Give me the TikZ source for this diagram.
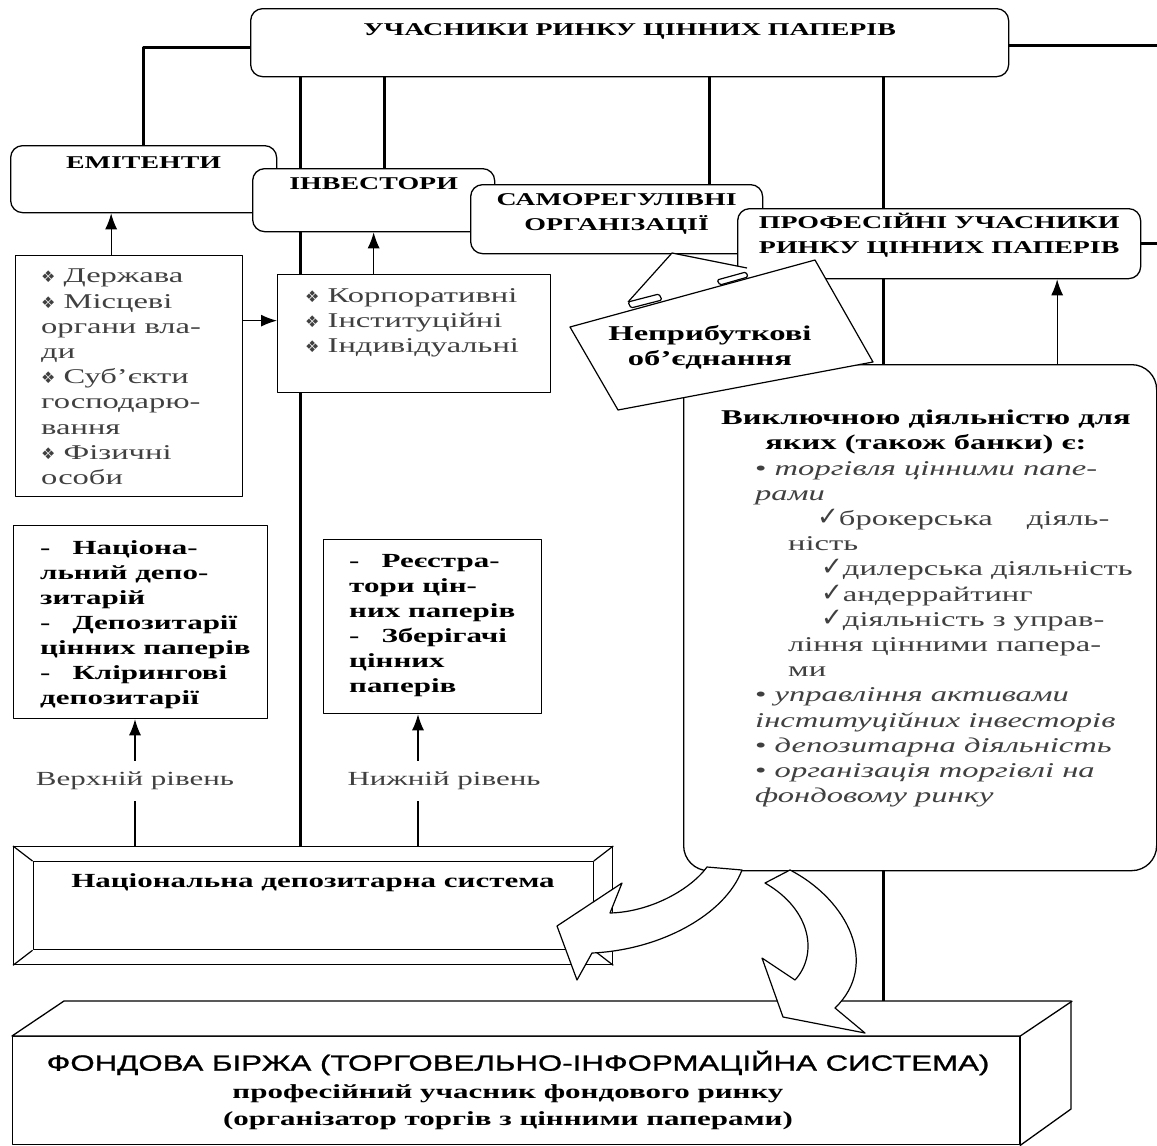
\documentclass[tikz,border=0pt]{standalone}
\usepackage{fontspec}
\setmainfont[FakeStretch=1.55]{Liberation Serif}
\setsansfont[FakeStretch=1.42]{Liberation Sans}
\newfontfamily\narrowsans[FakeStretch=1.42, FakeBold=1.2]{Liberation Sans}
\newfontfamily\dingfont{DejaVu Sans}
\usetikzlibrary{arrows.meta, positioning, shapes}
\definecolor{inkgray}{rgb}{0.25,0.25,0.25}
\newcommand{\dia}{{\dingfont\fontsize{16}{16}\selectfont ❖}}
\newcommand{\chk}{{\dingfont\fontsize{26}{26}\selectfont ✓}}
\tikzstyle{rbox} = [draw, fill=white, rectangle, rounded corners=12pt, line width=1.3pt,
    inner sep=0pt, anchor=north west]
\tikzstyle{block} = [draw, fill=white, rectangle, line width=1.3pt, inner sep=0pt,
    anchor=north west]
\tikzstyle{bus} = [line width=3pt]
\tikzstyle{arrow} = [-{Latex[length=16pt, width=12pt]}, line width=1.2pt]
\tikzstyle{head} = [inner sep=0pt, align=center, font=\fontsize{18}{25}\selectfont\bfseries]
\tikzstyle{body} = [inner sep=0pt, align=left, anchor=north west,
    font=\fontsize{21}{25.2}\selectfont]
\tikzstyle{boldbody} = [body, font=\fontsize{20}{25}\selectfont\bfseries]
\tikzstyle{level} = [inner sep=11pt, text=inkgray, font=\fontsize{20}{24}\selectfont]
\tikzstyle{outline} = [line width=1.2pt]

\begin{document}
\begin{tikzpicture}[x=1pt, y=-1pt, line join=round]
    \useasboundingbox (0,0) rectangle (1157,1146);

    % Place the blocks
    \node [rbox, minimum width=758pt, minimum height=68pt] (market) at (250,8) {};
    \node [head, below=15pt of market.north] (market-t) {УЧАСНИКИ РИНКУ ЦІННИХ ПАПЕРІВ};
    \node [rbox, minimum width=266pt, minimum height=67pt] (emit) at (10,145) {};
    \node [head, below=12pt of emit.north] (emit-t) {ЕМІТЕНТИ};
    \node [rbox, minimum width=242pt, minimum height=63pt] (invest) at (252,168) {};
    \node [head, below=9pt of invest.north] (invest-t) {ІНВЕСТОРИ};
    \node [rbox, minimum width=292pt, minimum height=69pt] (selfreg) at (470,184) {};
    \node [head, below=9pt of selfreg.north] (selfreg-t) {САМОРЕГУЛІВНІ\\ОРГАНІЗАЦІЇ};
    \node [rbox, minimum width=403pt, minimum height=70pt] (prof) at (737,208) {};
    \node [head, below=5pt of prof.north] (prof-t) {ПРОФЕСІЙНІ УЧАСНИКИ\\РИНКУ ЦІННИХ ПАПЕРІВ};

    \node [block, minimum width=227pt, minimum height=241pt] (issuers) at (15,255) {};
    \node [body, text=inkgray] (issuers-t) at (41,269) {\dia\ Держава\\\dia\ Місцеві\\органи вла-\\ди\\\dia\ Суб’єкти\\господарю-\\вання\\\dia\ Фізичні\\особи};
    \node [block, minimum width=273pt, minimum height=118pt] (kinds) at (277,274) {};
    \node [body, text=inkgray] (kinds-t) at (305,288) {\dia\ Корпоративні\\\dia\ Інституційні\\\dia\ Індивідуальні};

    \node [block, minimum width=254pt, minimum height=193pt] (upper) at (13,525) {};
    \node [boldbody] (upper-t) at (40,540) {-\hspace{22pt}Націона-\\льний депо-\\зитарій\\-\hspace{22pt}Депозитарії\\цінних паперів\\-\hspace{22pt}Клірингові\\депозитарії};
    \node [block, minimum width=218pt, minimum height=174pt] (lower) at (323,539) {};
    \node [boldbody] (lower-t) at (349,554) {-\hspace{22pt}Реєстра-\\тори цін-\\них паперів\\-\hspace{22pt}Зберігачі\\цінних\\паперів};
    \node [level] (upper-lvl) at (135,781) {Верхній рівень};
    \node [level] (lower-lvl) at (444,781) {Нижній рівень};

    \node [rbox, rounded corners=25pt, minimum width=473pt, minimum height=506pt] (activity) at (683,364) {};
    \node [boldbody, font=\fontsize{21}{25}\selectfont\bfseries, align=center, anchor=north] (activity-t) at (926,410) {Виключною діяльністю для\\яких (також банки) є:};
    \node [body, text=inkgray] (activity-l) at (755,461) {%
        \textbullet\ \textit{торгівля цінними папе-}\\
        \textit{рами}\\
        \hspace*{62pt}\chk брокерська\hspace{34pt}діяль-\\
        \hspace*{33pt}ність\\
        \hspace*{66pt}\chk дилерська діяльність\\
        \hspace*{66pt}\chk андеррайтинг\\
        \hspace*{66pt}\chk діяльність з управ-\\
        \hspace*{33pt}ління цінними папера-\\
        \hspace*{33pt}ми\\
        \textbullet\ \textit{управління активами}\\
        \textit{інституційних інвесторів}\\
        \textbullet\ \textit{депозитарна діяльність}\\
        \textbullet\ \textit{організація торгівлі на}\\
        \textit{фондовому ринку}};

    % Non-profit note over the corner
    \fill [white] (672,253) -- (628,302) -- (631,313) -- (748,281) -- (747,268) -- cycle;
    \draw [outline, fill=white] (570,327) -- (815,260) -- (873,362) -- (618,410) -- cycle;
    \draw [outline] (628,302) -- (672,253) -- (747,268);
    \draw [outline, fill=white, rounded corners=1.5pt] (628,302) -- (659,294) -- (662,300) -- (631,308) -- cycle;
    \draw [outline, fill=white, rounded corners=1.5pt] (717,280) -- (746,272) -- (748,277) -- (720,285) -- cycle;
    \node [boldbody, font=\fontsize{21}{25}\selectfont\bfseries, align=center, anchor=center] (nonprofit) at (710,347) {Неприбуткові\\об’єднання};

    % Depository system frame
    \node [block, minimum width=599pt, minimum height=118pt] (nds) at (13,846) {};
    \node [draw, outline, inner sep=0pt, minimum width=560pt, minimum height=88pt] (nds-in) at (nds.center) {};
    \foreach \corner in {north west, north east, south west, south east}
        \draw [outline] (nds.\corner) -- (nds-in.\corner);
    \node [head, font=\fontsize{20}{24}\selectfont\bfseries] (nds-t) at (313,883) {Національна депозитарна система};

    % Stock exchange box
    \node [block, minimum width=1007pt, minimum height=108pt] (exchange) at (12,1036) {};
    \coordinate (exch-back) at ([shift={(52,-35)}]exchange.north west);
    \draw [line width=1.3pt, fill=white] (exchange.north west) -- (exch-back) -- ++(1007,0)
        -- ++(0,108) -- (exchange.south east) -- (exchange.north east) -- cycle;
    \draw [line width=1.3pt] (exchange.north east) -- ++(52,-35);
    \node [inner sep=0pt, font=\narrowsans\fontsize{22}{25}\selectfont] (exchange-t) at (518,1063) {ФОНДОВА БІРЖА (ТОРГОВЕЛЬНО-ІНФОРМАЦІЙНА СИСТЕМА)};
    \node [head, font=\fontsize{20}{27}\selectfont\bfseries] (exchange-s) at (508,1107) {професійний учасник фондового ринку\\(організатор торгів з цінними паперами)};

    % Block arrows out of the activity box
    \draw [outline, fill=white] (707,867) .. controls (690,890) and (650,912) .. (610,913)
        -- (622,883) -- (557,926) -- (577,980) -- (592,953)
        .. controls (660,950) and (725,915) .. (742,870) -- cycle;
    \draw [outline, fill=white] (790,870) .. controls (848,900) and (880,965) .. (835,1008)
        -- (865,1033) -- (783,1017) -- (762,958) -- (795,980)
        .. controls (818,955) and (812,910) .. (765,883) -- cycle;

    % Connect the nodes
    \coordinate (bus-a) at (300,76);
    \coordinate (bus-b) at (384,76);
    \coordinate (bus-c) at (709,76);
    \coordinate (bus-d) at (883,76);
    \draw [bus] ([yshift=-5pt]market.west) -| (emit.north);
    \draw [bus] (bus-a) -- (bus-a |- invest.north);
    \draw [bus] (bus-a |- invest.south) -- (bus-a |- kinds.north);
    \draw [bus] (bus-a |- kinds.south) -- (bus-a |- nds.north);
    \draw [bus] (bus-b) -- (bus-b |- invest.north);
    \draw [bus] (bus-c) -- (bus-c |- selfreg.north);
    \draw [bus] (bus-d) -- (bus-d |- prof.north);
    \draw [bus] (bus-d |- prof.south) -- (bus-d |- activity.north);
    \draw [bus] (bus-d |- activity.south) -- (bus-d |- exch-back);
    \draw [bus] ([yshift=-3pt]market.east) -- ++(170,0) |- (prof.east);

    \draw [arrow] ([xshift=-18pt]issuers.north) -- ([xshift=-18pt]issuers.north |- emit.south);
    \draw [arrow] ([yshift=13pt]kinds.west -| issuers.east) -- ([yshift=13pt]kinds.west);
    \draw [arrow] (kinds.north -| invest.south) -- (invest.south);
    \draw [arrow] ([xshift=118pt]prof.south |- activity.north) -- ([xshift=118pt]prof.south);
    \draw [arrow] (upper-lvl.north) -- (upper-lvl.north |- upper.south);
    \draw [outline] (upper-lvl.south |- nds.north) -- (upper-lvl.south);
    \draw [arrow] ([xshift=-26pt]lower-lvl.north) -- ([xshift=-26pt]lower-lvl.north |- lower.south);
    \draw [outline] ([xshift=-26pt]lower-lvl.south |- nds.north) -- ([xshift=-26pt]lower-lvl.south);
\end{tikzpicture}
\end{document}
